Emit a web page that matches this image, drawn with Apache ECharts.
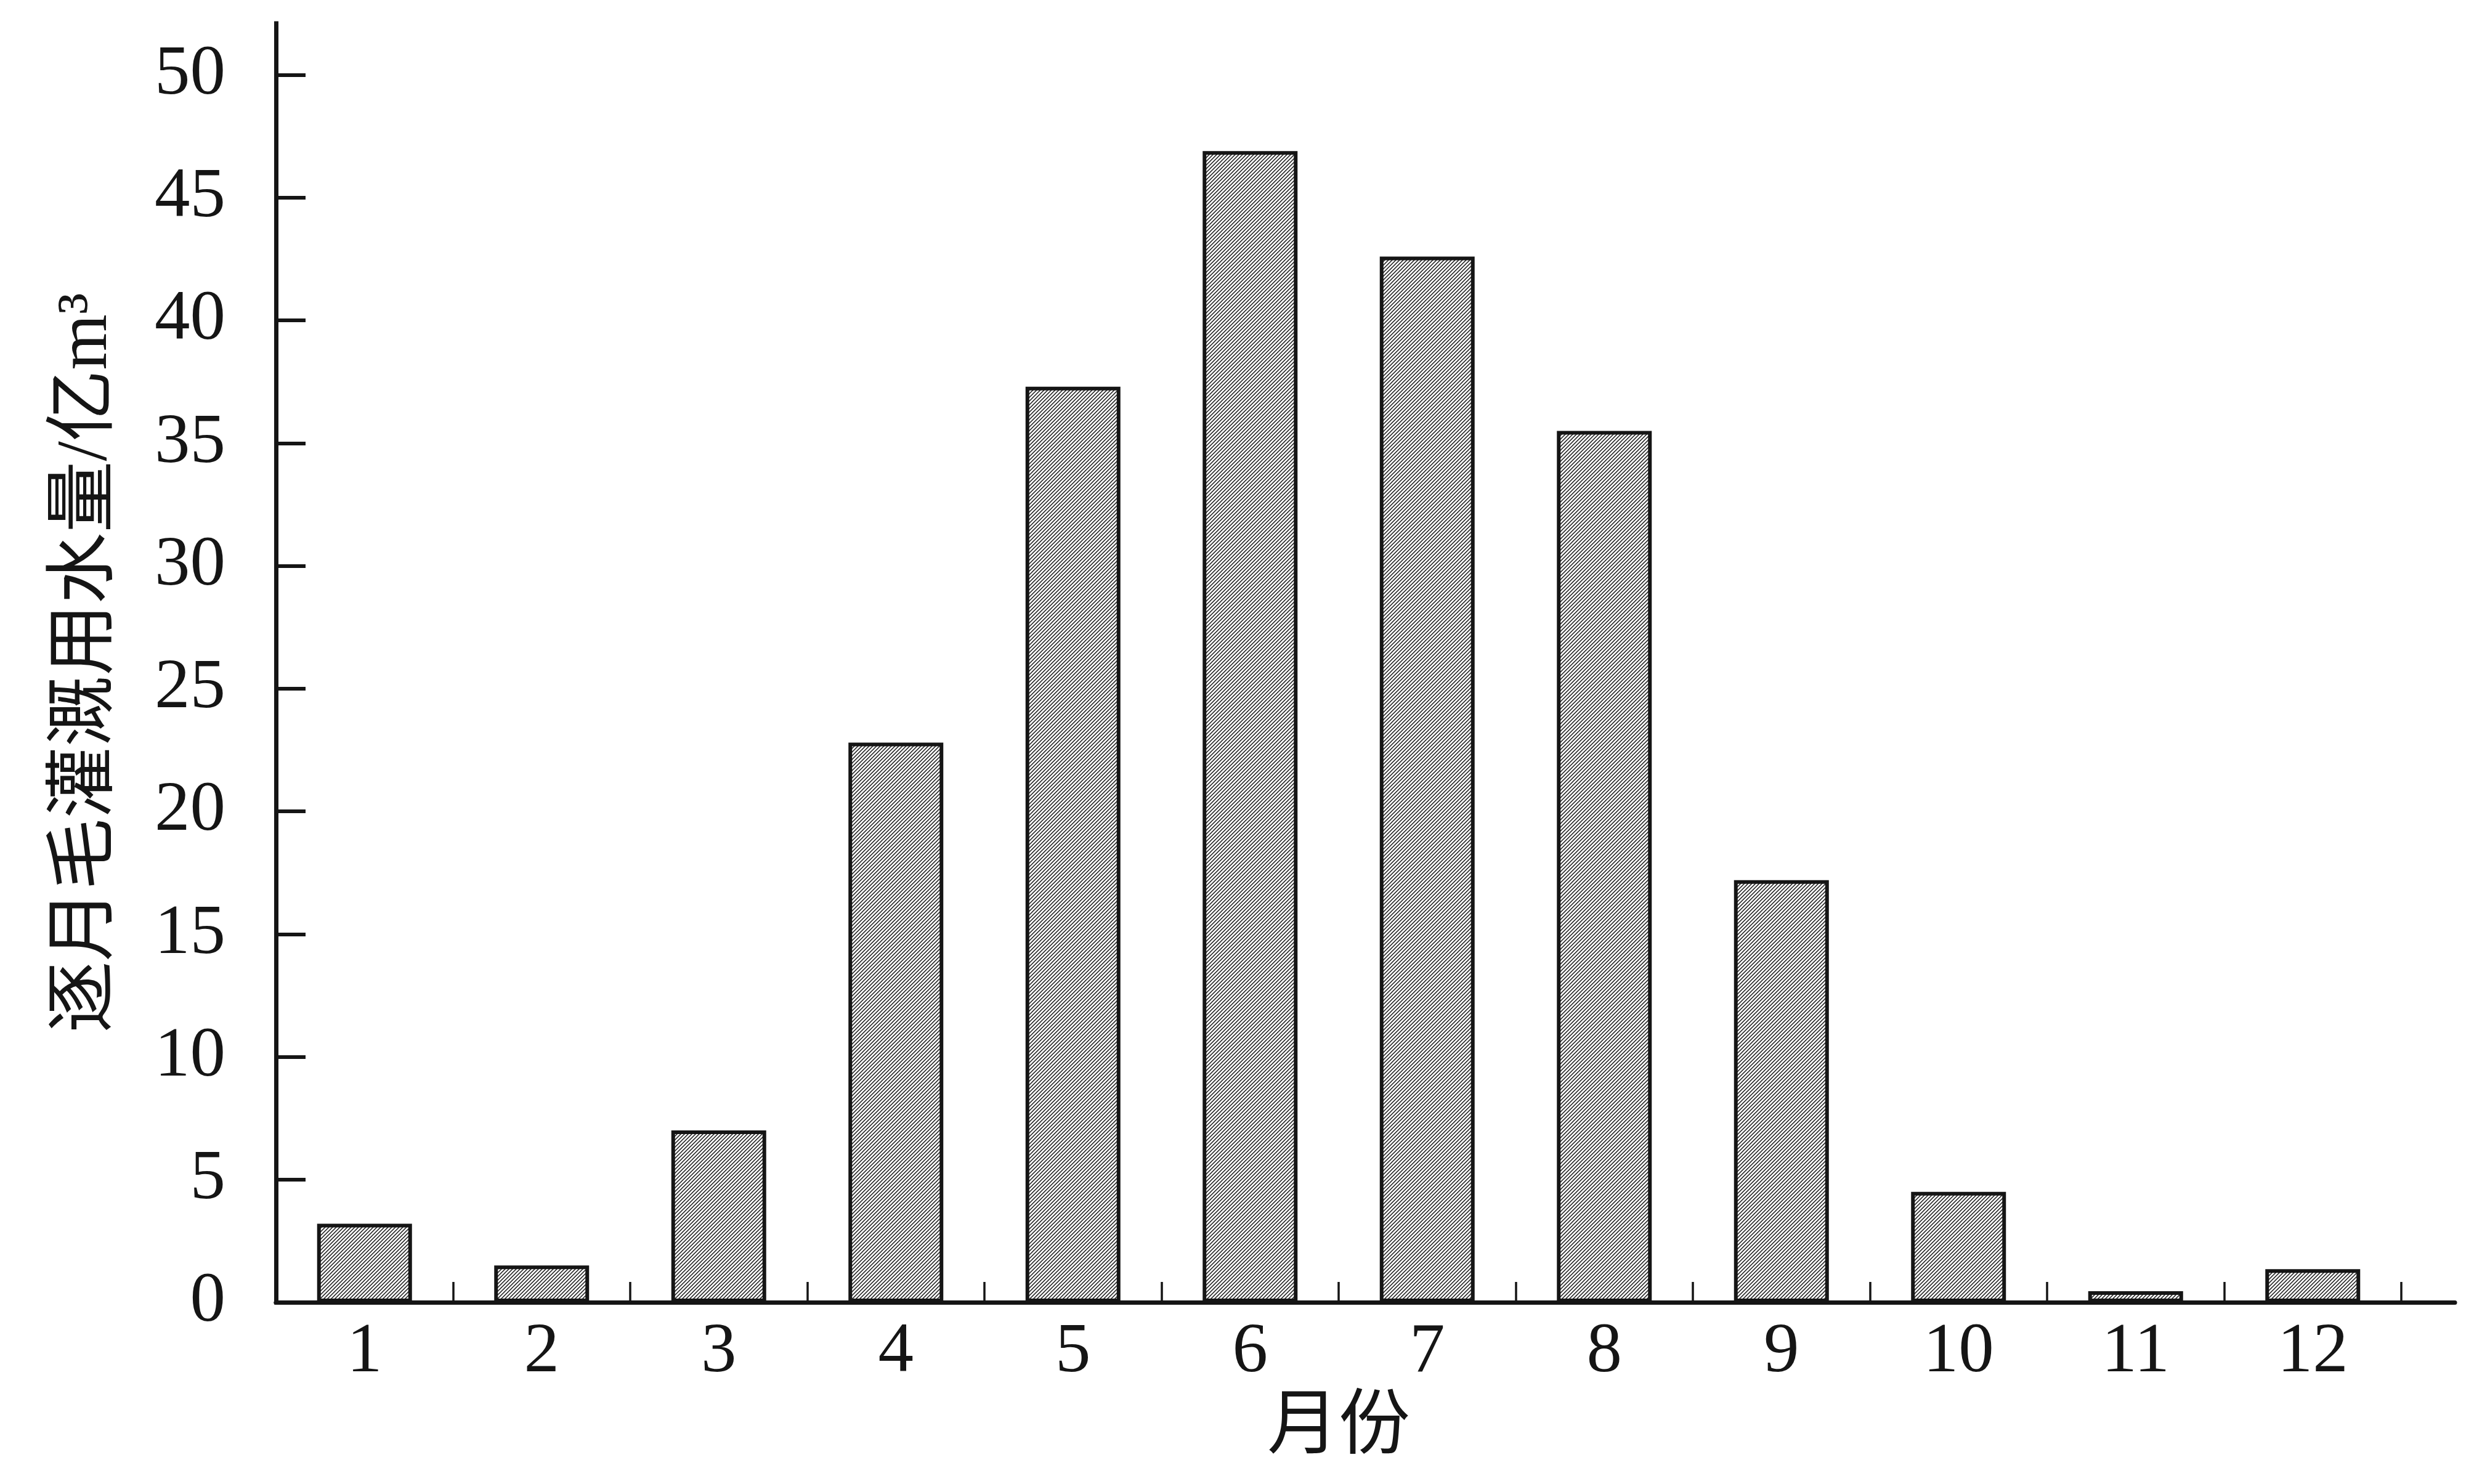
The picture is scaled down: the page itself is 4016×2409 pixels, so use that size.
<!DOCTYPE html>
<html>
<head>
<meta charset="utf-8">
<script src="https://cdn.jsdelivr.net/npm/echarts@6/dist/echarts.min.js"></script>
<style>
html,body{margin:0;padding:0;background:#fff;}
#c{width:4016px;height:2409px;}
</style>
</head>
<body>
<div id="c"></div>
<script>
const months = ['1','2','3','4','5','6','7','8','9','10','11','12'];
const waterUse = [3.2, 1.5, 7.0, 22.8, 37.3, 46.9, 42.6, 35.5, 17.2, 4.5, 0.45, 1.35];
const yTicks = [0, 5, 10, 15, 20, 25, 30, 35, 40, 45, 50];
const xName = '月份';
const yName = '逐月毛灌溉用水量/亿m³';

const INK = '#151515';
const LATIN = '"Liberation Serif", "Noto Sans CJK SC", serif';
const CJK = '"Liberation Serif", "Noto Sans CJK SC", sans-serif';

function hatch() {
  const s = 6;
  const c = document.createElement('canvas');
  c.width = s; c.height = s;
  const g = c.getContext('2d');
  g.fillStyle = '#fff';
  g.fillRect(0, 0, s, s);
  g.strokeStyle = INK;
  g.lineWidth = 1.5;
  g.beginPath();
  g.moveTo(0, s); g.lineTo(s, 0);
  g.moveTo(-s, s); g.lineTo(s, -s);
  g.moveTo(0, 2 * s); g.lineTo(2 * s, 0);
  g.stroke();
  return c;
}

const chart = echarts.init(document.getElementById('c'), null, {renderer: 'canvas'});
chart.setOption({
  animation: false,
  backgroundColor: '#fff',
  grid: [
    {left: 448, right: 118, top: 38, bottom: 295, containLabel: false},
    {left: 448, right: 31, top: 38, bottom: 295, containLabel: false}
  ],
  xAxis: [
    {
      type: 'category',
      gridIndex: 0,
      data: months,
      boundaryGap: true,
      axisLine: {show: true, lineStyle: {color: INK, width: 7}},
      axisTick: {show: true, inside: true, length: 33, lineStyle: {color: INK, width: 3.5}},
      axisLabel: {show: true, margin: 24, fontFamily: LATIN, fontSize: 115, color: INK},
      splitLine: {show: false},
      name: xName,
      nameLocation: 'middle',
      nameGap: 148,
      nameTextStyle: {fontFamily: CJK, fontSize: 116, color: INK}
    },
    {
      type: 'value',
      gridIndex: 1,
      min: 0, max: 1,
      axisLine: {show: true, lineStyle: {color: INK, width: 7}},
      axisTick: {show: false},
      axisLabel: {show: false},
      splitLine: {show: false}
    }
  ],
  yAxis: [
    {
      type: 'value',
      gridIndex: 0,
      min: 0,
      max: 52.1,
      interval: 5,
      axisLine: {show: true, lineStyle: {color: INK, width: 7, cap: 'square'}},
      axisTick: {show: true, inside: true, length: 48, customValues: yTicks, lineStyle: {color: INK, width: 6}},
      axisLabel: {show: true, margin: 82, customValues: yTicks, fontFamily: LATIN, fontSize: 115, color: INK},
      splitLine: {show: false},
      name: yName,
      nameLocation: 'middle',
      nameGap: 248,
      nameTextStyle: {fontFamily: CJK, fontSize: 116, color: INK}
    },
    {
      type: 'value',
      gridIndex: 1,
      show: false
    }
  ],
  series: [
    {
      type: 'bar',
      xAxisIndex: 0,
      yAxisIndex: 0,
      data: waterUse,
      barWidth: 154,
      itemStyle: {
        color: {image: hatch(), repeat: 'repeat'},
        borderColor: INK,
        borderWidth: 6
      }
    }
  ]
});
</script>
</body>
</html>
